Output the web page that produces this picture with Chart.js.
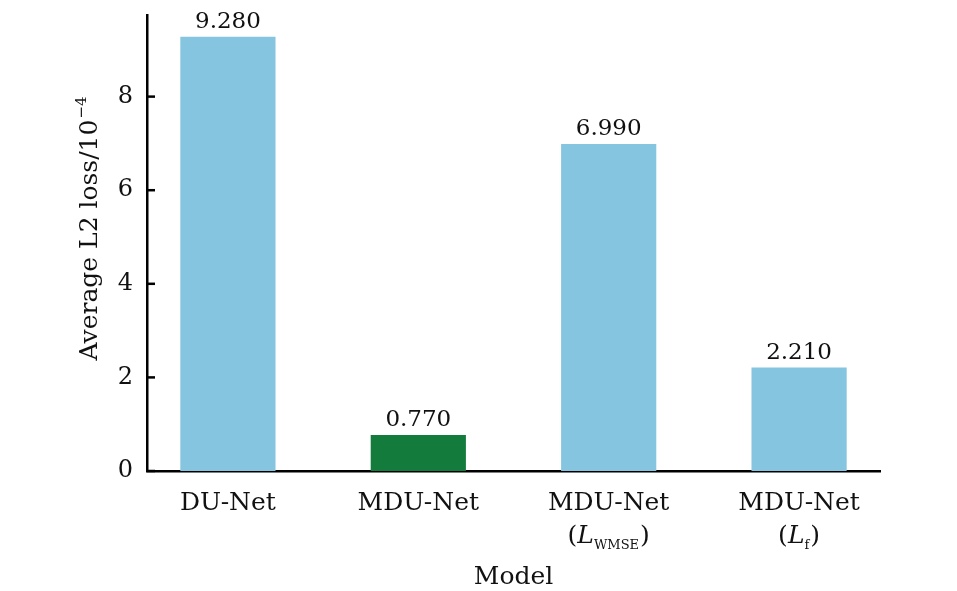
<!DOCTYPE html>
<html>
<head>
<meta charset="utf-8">
<script src="https://cdn.jsdelivr.net/npm/chart.js@4/dist/chart.umd.min.js"></script>
<style>
  html, body { margin: 0; padding: 0; background: #fff; }
  #wrap { width: 957px; height: 591px; }
</style>
</head>
<body>
<div id="wrap"><canvas id="lossChart" width="957" height="591"></canvas></div>
<script>
// data
const categories = ['DU-Net', 'MDU-Net', 'MDU-Net (L_WMSE)', 'MDU-Net (L_f)'];
// tick label parts: [main line, italic letter, subscript] (second line only when given)
const labelLines = [
  ['DU-Net', null, null],
  ['MDU-Net', null, null],
  ['MDU-Net', 'L', 'WMSE'],
  ['MDU-Net', 'L', 'f']
];
const lossValues = [9.28, 0.77, 6.99, 2.21];
const barColors = ['#86c5df', '#137b3b', '#86c5df', '#86c5df'];
const yTicks = [0, 2, 4, 6, 8];

const FONT = '"DejaVu Serif", "Liberation Serif", serif';
const FS = 25;

// text, inward ticks and axis titles
const decorPlugin = {
  id: 'decor',
  afterDraw(chart) {
    const ctx = chart.ctx;
    const xs = chart.scales.x;
    const ys = chart.scales.y;
    const area = chart.chartArea;
    ctx.save();
    ctx.fillStyle = '#111';
    ctx.strokeStyle = '#000';

    // inward y ticks
    ctx.lineWidth = 2.5;
    yTicks.forEach(v => {
      const py = ys.getPixelForValue(v);
      ctx.beginPath();
      ctx.moveTo(area.left, py);
      ctx.lineTo(area.left + 8, py);
      ctx.stroke();
    });

    // value labels
    ctx.font = '23px ' + FONT;
    ctx.textAlign = 'center';
    ctx.textBaseline = 'alphabetic';
    const meta = chart.getDatasetMeta(0);
    meta.data.forEach((bar, i) => {
      ctx.fillText(lossValues[i].toFixed(3), bar.x, bar.y - 9);
    });

    // x tick labels
    categories.forEach((c, i) => {
      const px = xs.getPixelForValue(i);
      const parts = labelLines[i];
      ctx.font = FS + 'px ' + FONT;
      ctx.textAlign = 'center';
      ctx.fillText(parts[0], px, 510);
      if (parts[1]) {
        const italic = 'italic ' + FS + 'px ' + FONT;
        const sub = '13px ' + FONT;
        ctx.font = FS + 'px ' + FONT;
        const wOpen = ctx.measureText('(').width;
        const wClose = ctx.measureText(')').width;
        ctx.font = italic;
        const wL = ctx.measureText(parts[1]).width;
        ctx.font = sub;
        const wS = ctx.measureText(parts[2]).width;
        const total = wOpen + wL + wS + wClose + 1;
        let cx = px - total / 2;
        const base = 543;
        ctx.textAlign = 'left';
        ctx.font = FS + 'px ' + FONT;
        ctx.fillText('(', cx, base); cx += wOpen;
        ctx.font = italic;
        ctx.fillText(parts[1], cx, base); cx += wL;
        ctx.font = sub;
        ctx.fillText(parts[2], cx, base + 6); cx += wS + 1;
        ctx.font = FS + 'px ' + FONT;
        ctx.fillText(')', cx, base);
      }
    });

    // axis titles
    ctx.font = FS + 'px ' + FONT;
    ctx.textAlign = 'center';
    ctx.textBaseline = 'middle';
    ctx.fillText('Model', (area.left + area.right) / 2, 577);

    const main = 'Average L2 loss/10';
    const sup = '\u22124';
    const w1 = ctx.measureText(main).width;
    ctx.font = '15px ' + FONT;
    const w2 = ctx.measureText(sup).width;
    ctx.translate(88, 229);
    ctx.rotate(-Math.PI / 2);
    ctx.textAlign = 'left';
    ctx.textBaseline = 'alphabetic';
    const x0 = -(w1 + w2) / 2;
    ctx.font = FS + 'px ' + FONT;
    ctx.fillText(main, x0, 9);
    ctx.font = '15px ' + FONT;
    ctx.fillText(sup, x0 + w1 + 1, -2);
    ctx.restore();
  }
};

new Chart(document.getElementById('lossChart'), {
  type: 'bar',
  data: {
    datasets: [{
      data: lossValues.map((v, i) => ({ x: i, y: v })),
      backgroundColor: barColors,
      borderWidth: 0,
      barPercentage: 0.5,
      categoryPercentage: 1.0
    }]
  },
  options: {
    responsive: false,
    animation: false,
    events: [],
    layout: { padding: { top: 15, right: 77, left: 0, bottom: 0 } },
    plugins: { legend: { display: false }, tooltip: { enabled: false } },
    scales: {
      x: {
        type: 'linear',
        offset: false,
        min: -0.425,
        max: 3.425,
        grid: { display: false, drawTicks: false },
        border: { display: true, color: '#000', width: 2.5 },
        ticks: { display: false },
        afterBuildTicks(scale) { scale.ticks = categories.map((c, i) => ({ value: i })); },
        afterFit(scale) { scale.height = 120; scale.paddingLeft = 0; scale.paddingRight = 0; }
      },
      y: {
        min: 0,
        max: 9.744,
        grid: { display: false, drawTicks: false },
        border: { display: true, color: '#000', width: 2.5 },
        ticks: {
          padding: 14,
          color: '#111',
          font: { family: FONT, size: 24 },
          callback: v => String(v)
        },
        afterBuildTicks(scale) { scale.ticks = yTicks.map(v => ({ value: v })); },
        afterFit(scale) { scale.width = 147; scale.paddingTop = 0; scale.paddingBottom = 0; }
      }
    }
  },
  plugins: [decorPlugin]
});
</script>
</body>
</html>
